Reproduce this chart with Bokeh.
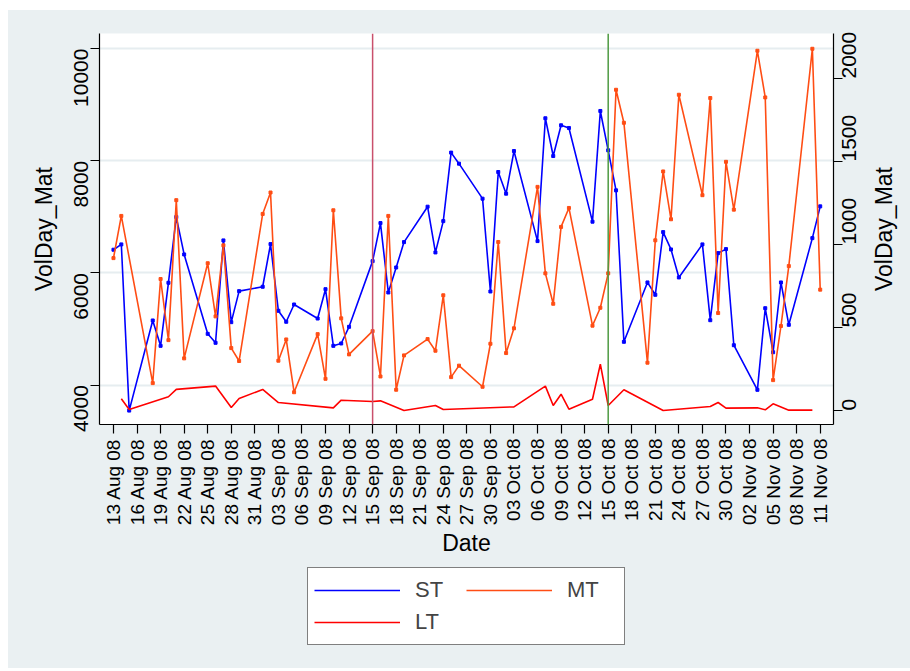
import math
import pandas as pd
from bokeh.plotting import figure
from bokeh.layouts import column, row
from bokeh.models import (Range1d, LinearAxis, FixedTicker, DatetimeTickFormatter,
                          Span, Legend, LegendItem, ColumnDataSource)
from bokeh.embed import file_html
from bokeh.resources import INLINE

# ---------------- data ----------------
st_dates = pd.bdate_range("2008-08-13", "2008-11-11")
st_values = [6414, 6509, 3547, 5153, 4701, 5825, 6996, 6330, 4915, 4755, 6580, 5123, 5676,
             5754, 6514, 5326, 5130, 5438, 5188, 5711, 4701, 4743, 5040, 6211, 6889, 5652,
             6098, 6550, 7181, 6366, 6924, 8145, 7948, 7324, 5670,
             7799, 7413, 8173, 6568, 8757, 8084, 8632, 8584, 6914, 8887, 8186, 7472, 4773,
             5831, 5611, 6728, 6419, 5920, 6509, 5158, 6354, 6425, 4712,
             3917, 5372, 4587, 5831, 5076, 6621, 7187]

mt_dates = st_dates.drop(pd.Timestamp("2008-08-15"))
mt_values = [918, 1172, 165, 792, 424, 1267, 314, 887, 567, 995, 376, 298,
             1184, 1313, 300, 428, 110, 460, 191, 1206, 555, 338, 478, 205, 1172,
             125, 332, 430, 360, 694, 201, 270, 143, 402,
             1015, 346, 495, 1347, 826, 643, 1106, 1220, 511, 619, 826, 1932, 1733,
             288, 1025, 1440, 1152, 1902, 1297, 1882, 587, 1498, 1210,
             2167, 1886, 183, 509, 870, 2179, 728]

lt_dates = pd.to_datetime([
    "2008-08-14", "2008-08-15", "2008-08-20", "2008-08-21", "2008-08-26", "2008-08-28",
    "2008-08-29", "2008-09-01", "2008-09-03", "2008-09-10", "2008-09-11", "2008-09-15",
    "2008-09-16", "2008-09-19", "2008-09-23", "2008-09-24", "2008-10-03", "2008-10-07",
    "2008-10-08", "2008-10-09", "2008-10-10", "2008-10-13", "2008-10-14", "2008-10-15",
    "2008-10-17", "2008-10-22", "2008-10-28", "2008-10-29", "2008-10-30", "2008-11-03",
    "2008-11-04", "2008-11-05", "2008-11-07", "2008-11-10"])
lt_values = [71, 6, 83, 127, 147, 18, 72, 127, 48, 16, 62, 54, 58, 0, 30, 6, 22, 147,
             30, 98, 8, 68, 279, 30, 125, 0, 24, 48, 14, 16, 4, 40, 2, 2]

tick_dates = pd.date_range("2008-08-13", "2008-11-11", freq="3D")
event_dates = ["2008-09-15", "2008-10-15"]
left_ticks = [4000, 6000, 8000, 10000]
right_ticks = [0, 500, 1000, 1500, 2000]
series_names = ["ST", "MT", "LT"]

# ---------------- styling ----------------
FONT = "Liberation Sans"
BG = "#eaf0f2"
GRID = "#e6edf0"
C_ST, C_MT, C_LT = "#0000ff", "#ff4d14", "#ff0000"

x0 = pd.Timestamp("2008-08-13") - pd.Timedelta(hours=42.7)
x1 = pd.Timestamp("2008-11-11") + pd.Timedelta(hours=40.6)

p = figure(frame_width=734, frame_height=391, output_backend="svg", toolbar_location=None,
           x_axis_type="datetime", x_range=Range1d(x0, x1),
           y_range=Range1d(3299, 10268),
           min_border_left=91, min_border_right=34, min_border_top=23, min_border_bottom=140)
p.background_fill_color = "white"
p.border_fill_color = BG
p.outline_line_color = None
p.extra_y_ranges = {"r": Range1d(-84.4, 2271)}

st_src = ColumnDataSource(dict(x=st_dates, y=st_values))
mt_src = ColumnDataSource(dict(x=mt_dates, y=mt_values))
lt_src = ColumnDataSource(dict(x=lt_dates, y=lt_values))
sources = [st_src, mt_src, lt_src]
colors = [C_ST, C_MT, C_LT]

p.line("x", "y", source=st_src, color=C_ST, line_width=1.6)
p.scatter("x", "y", source=st_src, marker="square", size=3, color=C_ST)
p.line("x", "y", source=mt_src, color=C_MT, line_width=1.6, y_range_name="r")
p.scatter("x", "y", source=mt_src, marker="square", size=3, color=C_MT, y_range_name="r")
p.line("x", "y", source=lt_src, color=C_LT, line_width=1.6, y_range_name="r")

for d, c in zip(event_dates, ["#c9506c", "#4e9a42"]):
    p.add_layout(Span(location=pd.Timestamp(d).to_pydatetime(), dimension="height",
                      line_color=c, line_width=1.5))

p.xgrid.visible = False
p.ygrid.ticker = FixedTicker(ticks=left_ticks)
p.ygrid.grid_line_color = GRID
p.ygrid.grid_line_width = 2

def style_axis(ax, tick_size, label_size):
    ax.axis_line_color = "black"
    ax.axis_line_width = 1.2
    ax.major_tick_line_color = "black"
    ax.major_tick_line_width = 1.2
    ax.major_tick_out = 9
    ax.major_tick_in = 0
    ax.minor_tick_line_color = None
    ax.major_label_text_font = FONT
    ax.major_label_text_font_size = f"{tick_size}px"
    ax.major_label_text_color = "black"
    ax.axis_label_text_font = FONT
    ax.axis_label_text_font_size = f"{label_size}px"
    ax.axis_label_text_font_style = "normal"
    ax.axis_label_text_color = "black"

xa = p.xaxis[0]
style_axis(xa, 19, 23)
xa.ticker = FixedTicker(ticks=[int(t.value // 10**6) for t in tick_dates])
fmt = "%d %b %y"
xa.formatter = DatetimeTickFormatter(days=fmt, months=fmt, years=fmt, hours=fmt,
                                     hourmin=fmt, minutes=fmt, minsec=fmt, seconds=fmt,
                                     milliseconds=fmt, microseconds=fmt)
xa.major_label_orientation = math.pi / 2
xa.major_label_standoff = 5
xa.axis_label = "Date"
xa.axis_label_standoff = 2

ya = p.yaxis[0]
style_axis(ya, 21, 23)
ya.ticker = FixedTicker(ticks=left_ticks)
ya.major_label_orientation = math.pi / 2
ya.major_label_standoff = 9
ya.axis_label = "VolDay_Mat"
ya.axis_label_standoff = 8

yr = LinearAxis(y_range_name="r")
style_axis(yr, 21, 23)
yr.ticker = FixedTicker(ticks=right_ticks)
yr.major_label_orientation = math.pi / 2
yr.major_label_standoff = 7
p.add_layout(yr, "right")

# ---- right-hand axis title (reads bottom-to-top, centred on the frame) ----
lab = figure(frame_width=1, frame_height=391, output_backend="svg", toolbar_location=None,
             x_range=Range1d(0, 1), y_range=Range1d(0, 1), x_axis_location=None,
             min_border_left=37, min_border_right=0, min_border_top=23, min_border_bottom=140)
lab.background_fill_color = BG
lab.border_fill_color = BG
lab.outline_line_color = None
lab.grid.visible = False
la = lab.yaxis[0]
la.ticker = FixedTicker(ticks=[])
la.axis_line_color = None
la.major_tick_line_color = None
la.minor_tick_line_color = None
la.major_label_text_font_size = "0px"
la.axis_label = "VolDay_Mat"
la.axis_label_text_font = FONT
la.axis_label_text_font_size = "23px"
la.axis_label_text_font_style = "normal"
la.axis_label_text_color = "black"
la.axis_label_standoff = 14

# ---- legend strip (series drawn off-range, only their legend keys show) ----
lf = figure(width=898, height=104, output_backend="svg", toolbar_location=None,
            x_range=Range1d(0, 1), y_range=Range1d(0, 1),
            x_axis_location=None, y_axis_location=None, min_border=0)
lf.background_fill_color = BG
lf.border_fill_color = BG
lf.outline_line_color = None
lf.grid.visible = False
items = []
for name, src, c in zip(series_names, sources, colors):
    r = lf.line("x", "y", source=src, color=c, line_width=1.6)
    items.append(LegendItem(label=name, renderers=[r]))
legend = Legend(items=items, ncols=2, location=(299, 23), orientation="horizontal")
legend.glyph_width = 86
legend.glyph_height = 32
legend.label_height = 32
legend.label_width = 51
legend.label_standoff = 15
legend.spacing = 0
legend.padding = 6
legend.margin = 0
legend.label_text_font = FONT
legend.label_text_font_size = "22px"
legend.border_line_color = "black"
legend.border_line_width = 1.2
legend.background_fill_color = "white"
legend.background_fill_alpha = 1
lf.add_layout(legend, "center")

top = row(p, lab, spacing=0)
top.styles = {"background-color": BG}
page = column(top, lf, spacing=0)
page.margin = (10, 0, 0, 8)
page.styles = {"background-color": BG}

open("out.html", "w").write(file_html(page, INLINE))
